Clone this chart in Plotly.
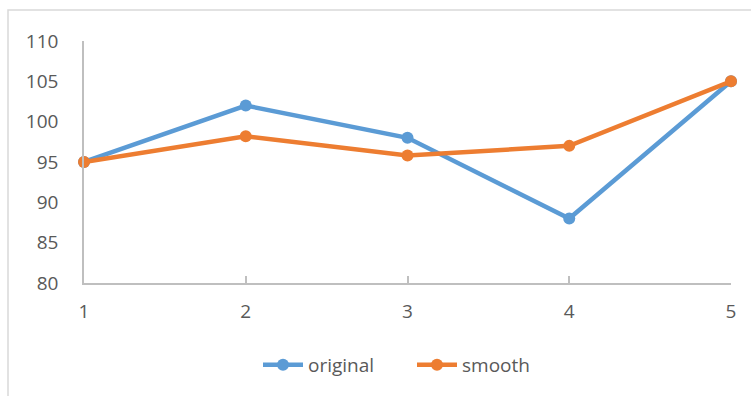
import plotly.graph_objects as go

# Series data
x_vals = [1, 2, 3, 4, 5]
original = [95, 102, 98, 88, 105]
smooth = [95, 98.2, 95.8, 97, 105]
y_ticks = [80, 85, 90, 95, 100, 105, 110]

BLUE = "#5B9BD5"
ORANGE = "#ED7D31"
TEXT = "#595959"
AXIS = "#BFBFBF"
FONT = "Open Sans"

fig = go.Figure()
fig.add_trace(go.Scatter(
    x=x_vals, y=original, name="original", mode="lines+markers",
    line=dict(color=BLUE, width=4.5), marker=dict(size=12, color=BLUE),
    cliponaxis=False,
))
fig.add_trace(go.Scatter(
    x=x_vals, y=smooth, name="smooth", mode="lines+markers",
    line=dict(color=ORANGE, width=4.5), marker=dict(size=12, color=ORANGE),
    cliponaxis=False,
))

L, R, T, B = 84, 20, 41, 113
W, H = 751, 396
pw, ph = W - L - R, H - T - B

# Light chart-area border
fig.add_shape(
    type="rect", xref="paper", yref="paper",
    x0=(8 - L) / pw, x1=1.2, y0=-0.7, y1=1 + (T - 10) / ph,
    line=dict(color="#D9D9D9", width=1.5), fillcolor="rgba(0,0,0,0)",
    layer="below",
)

fig.update_layout(
    width=W, height=H,
    margin=dict(l=L, r=R, t=T, b=B),
    paper_bgcolor="white", plot_bgcolor="white",
    font=dict(family=FONT, size=19, color=TEXT),
    showlegend=True,
    legend=dict(
        orientation="h", x=(412 - L) / pw, xanchor="center",
        y=-(365 - (H - B)) / ph, yanchor="middle",
        font=dict(size=19, color=TEXT), itemwidth=40,
        entrywidth=99, entrywidthmode="pixels",
        bgcolor="rgba(0,0,0,0)",
    ),
    xaxis=dict(
        range=[1, 5], tickvals=x_vals, ticktext=[str(v) for v in x_vals],
        showgrid=False, zeroline=False, showline=True, linecolor=AXIS,
        linewidth=1.5, ticks="inside", ticklen=7, tickcolor=AXIS,
        tickwidth=1.5, ticklabelstandoff=10,
        tickfont=dict(family=FONT, size=19, color=TEXT),
    ),
    yaxis=dict(
        range=[80, 110], tickvals=y_ticks,
        showgrid=False, zeroline=False, showline=True, linecolor=AXIS,
        linewidth=1.5, ticks="", ticklabelstandoff=20,
        tickfont=dict(family=FONT, size=19, color=TEXT),
    ),
)

fig.write_html("out.html")
